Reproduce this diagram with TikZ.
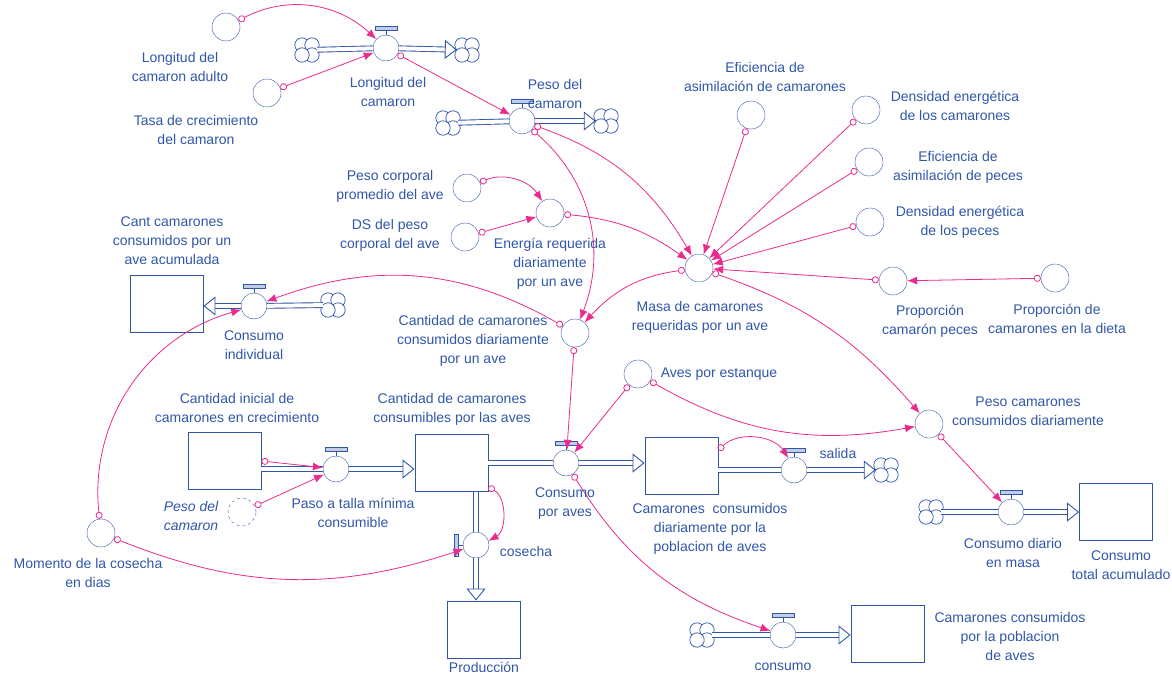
\documentclass[tikz,border=0pt]{standalone}
\usepackage{fontspec}
\setmainfont{Liberation Sans}
\usetikzlibrary{arrows.meta, calc}
\definecolor{vblue}{RGB}{48,86,168}
\definecolor{vpink}{RGB}{236,42,140}
\newcommand{\tapup}[1]{\draw[vblue] (#1.north) -- ++(0,5);
  \draw[vblue, fill=vblue!30] ($(#1.north)+(-11,5)$) rectangle ($(#1.north)+(11,8.5)$);}
\newcommand{\tapleft}[1]{\draw[vblue] (#1.west) -- ++(-5,0);
  \draw[vblue, fill=vblue!30] ($(#1.west)+(-5,-11)$) rectangle ($(#1.west)+(-8.5,11)$);}
\newcommand{\puffs}[1]{\foreach \dx/\dy in {-5/5, 5/5, 5/-5, -5/-5}
  {\draw[vblue, line width=0.7pt, fill=white] ($(#1)+(\dx,\dy)$) circle (7.2);}}
\newcommand{\flowpipe}[2]{\draw[pipe, shorten >=11pt] (#1) -- (#2);
  \draw[pipehead] (#1) -- (#2);}

\begin{document}
\begin{tikzpicture}[x=1pt, y=1pt,
    aux/.style={circle, draw=vblue, minimum size=28pt, inner sep=0pt},
    valve/.style={circle, draw=vblue, minimum size=26pt, inner sep=0pt},
    stock/.style={rectangle, draw=vblue, line width=0.9pt, minimum width=73pt, minimum height=57pt},
    cloudy/.style={circle, minimum size=20pt, inner sep=0pt},
    txt/.style={text=vblue, align=center, font=\fontsize{14}{19}\selectfont},
    link/.style={draw=vpink, line width=0.8pt, {Circle[open, length=7pt, width=7pt]}-{Latex[length=10pt, width=8pt]}},
    pipe/.style={draw=vblue, line width=0.9pt, double=white, double distance=4pt},
    pipehead/.style={white, line width=0.4pt, -{Triangle[open, length=12pt, width=19pt, color=vblue, fill=white, line width=0.9pt]}}
]
    \useasboundingbox (0,0) rectangle (1172,-677);

    % auxiliaries
    \node[aux] (ladulto) at (226,-27) {};
    \node[aux] (tasa) at (267,-93) {};
    \node[aux] (efcam) at (751,-115) {};
    \node[aux] (dencam) at (866,-110) {};
    \node[aux] (efpec) at (869,-162) {};
    \node[aux] (denpec) at (870,-222) {};
    \node[aux] (propcp) at (893,-281) {};
    \node[aux] (propdieta) at (1055,-278) {};
    \node[aux] (masa) at (699,-268) {};
    \node[aux] (pcorp) at (467,-188) {};
    \node[aux] (ds) at (465,-237) {};
    \node[aux] (energia) at (550,-213) {};
    \node[aux] (cantdia) at (575,-333) {};
    \node[aux, dashed] (pesosh) at (242,-512) {};
    \node[aux] (momento) at (101,-533) {};
    \node[aux] (aves) at (638,-374) {};
    \node[aux] (pesocons) at (929,-424) {};

    % stocks
    \node[stock] (acum) at (166.5,-303.5) {};
    \node[stock] (inicial) at (224.5,-461) {};
    \node[stock] (consumibles) at (451.5,-463) {};
    \node[stock] (diario) at (681.5,-466) {};
    \node[stock] (total) at (1116,-512) {};
    \node[stock] (pobl) at (887.5,-633.5) {};
    \node[stock] (prod) at (483.5,-629.5) {};

    % valves and clouds
    \node[valve] (vlong) at (386,-48) {};
    \node[valve] (vpeso) at (522,-121) {};
    \node[valve] (vconsind) at (254,-306) {};
    \node[valve] (vpaso) at (336,-469) {};
    \node[valve] (vconsaves) at (566,-463) {};
    \node[valve] (vcosecha) at (476,-545) {};
    \node[valve] (vsalida) at (794,-470) {};
    \node[valve] (vdiario) at (1011,-512) {};
    \node[valve] (vconsumo) at (783,-635) {};
    \node[cloudy] (c1) at (307,-50) {};
    \node[cloudy] (c2) at (467,-50) {};
    \node[cloudy] (c3) at (448,-123) {};
    \node[cloudy] (c4) at (606,-121) {};
    \node[cloudy] (c5) at (333,-305) {};
    \node[cloudy] (c6) at (886,-470) {};
    \node[cloudy] (c7) at (931,-512) {};
    \node[cloudy] (c8) at (702,-635) {};
    \foreach \c in {c1, c2, c3, c4, c5, c6, c7, c8} {\puffs{\c}}
    \foreach \v in {vlong, vpeso, vconsind, vpaso, vconsaves, vsalida, vdiario, vconsumo} {\tapup{\v}}
    \tapleft{vcosecha}

    % pipes
    \draw[pipe] (c1) -- (vlong);
    \flowpipe{vlong}{c2}
    \draw[pipe] (c3) -- (vpeso);
    \flowpipe{vpeso}{c4}
    \draw[pipe] (c5) -- (vconsind);
    \flowpipe{vconsind}{acum.east |- vconsind}
    \draw[pipe] (inicial.east |- vpaso) -- (vpaso);
    \flowpipe{vpaso}{consumibles.west |- vpaso}
    \draw[pipe] (consumibles.east |- vconsaves) -- (vconsaves);
    \flowpipe{vconsaves}{diario.west |- vconsaves}
    \draw[pipe] (vcosecha |- consumibles.south) -- (vcosecha);
    \flowpipe{vcosecha}{vcosecha |- prod.north}
    \draw[pipe] (diario.east |- vsalida) -- (vsalida);
    \flowpipe{vsalida}{c6}
    \draw[pipe] (c7) -- (vdiario);
    \flowpipe{vdiario}{total.west |- vdiario}
    \draw[pipe] (c8) -- (vconsumo);
    \flowpipe{vconsumo}{pobl.west |- vconsumo}

    % links
    \draw[link] (ladulto) to[bend left=35] (vlong);
    \draw[link] (tasa) -- (vlong);
    \draw[link] (vlong) -- (vpeso);
    \draw[link] (vpeso) to[bend left=20] (masa);
    \draw[link] (vpeso) to[bend left=35] (cantdia);
    \draw[link] (pcorp) to[bend left=40] (energia);
    \draw[link] (ds) -- (energia);
    \draw[link] (energia) to[bend left=15] (masa);
    \foreach \a in {efcam, dencam, efpec, denpec, propcp} {\draw[link] (\a) -- (masa);}
    \draw[link] (propdieta) -- (propcp);
    \draw[link] (masa) to[bend right=20] (cantdia);
    \draw[link] (masa) to[bend left=15] (pesocons);
    \draw[link] (cantdia) to[bend right=25] (vconsind);
    \draw[link] (cantdia) -- (vconsaves);
    \draw[link] (aves) -- (vconsaves);
    \draw[link] (aves) to[bend right=20] (pesocons);
    \draw[link] (momento) to[bend left=40] (vconsind);
    \draw[link] (momento) to[bend right=20] (vcosecha);
    \draw[link] (inicial.east) -- (vpaso);
    \draw[link] (pesosh) -- (vpaso);
    \draw[link] ([yshift=5pt]consumibles.south east) to[bend left=60] (vcosecha);
    \draw[link] (vconsaves) to[bend right=20] (vconsumo);
    \draw[link] ([yshift=-13pt]diario.north east) to[bend left=50] (vsalida);
    \draw[link] (pesocons) -- (vdiario);

    % labels
    \node[txt] (ladulto-t) at (180,-67) {Longitud del\\camaron adulto};
    \node[txt] (tasa-t) at (196,-129.5) {Tasa de crecimiento\\del camaron};
    \node[txt] (vlong-t) at (388,-91.5) {Longitud del\\camaron};
    \node[txt] (vpeso-t) at (555,-94) {Peso del\\camaron};
    \node[txt] (efcam-t) at (765,-76.5) {Eficiencia de\\asimilación de camarones};
    \node[txt] (dencam-t) at (955,-105.5) {Densidad energética\\de los camarones};
    \node[txt] (efpec-t) at (958,-167.5) {Eficiencia de\\asimilación de peces};
    \node[txt] (denpec-t) at (960,-222.5) {Densidad energética\\de los peces};
    \node[txt] (propcp-t) at (930,-321.5) {Proporción\\camarón peces};
    \node[txt] (propdieta-t) at (1057,-318.5) {Proporción de\\camarones en la dieta};
    \node[txt] (masa-t) at (700,-317.5) {Masa de camarones\\requeridas por un ave};
    \node[txt] (pcorp-t) at (390,-186.5) {Peso corporal\\promedio del ave};
    \node[txt] (ds-t) at (390,-235.5) {DS del peso\\corporal del ave};
    \node[txt] (energia-t) at (550,-264) {Energía requerida\\diariamente\\por un ave};
    \node[txt] (cantdia-t) at (473,-341) {Cantidad de camarones\\consumidos diariamente\\por un ave};
    \node[txt] (acum-t) at (172,-241) {Cant camarones\\consumidos por un\\ave acumulada};
    \node[txt] (vconsind-t) at (254,-345) {Consumo\\individual};
    \node[txt] (inicial-t) at (237,-407.5) {Cantidad inicial de\\camarones en crecimiento};
    \node[txt, font=\fontsize{14}{19}\selectfont\itshape] (pesosh-t) at (191,-515.5) {Peso del\\camaron};
    \node[txt] (vpaso-t) at (353,-512.5) {Paso a talla mínima\\consumible};
    \node[txt] (consumibles-t) at (452,-409.5) {Cantidad de camarones\\consumibles por las aves};
    \node[txt] (vconsaves-t) at (565,-503.5) {Consumo\\por aves};
    \node[txt] (vcosecha-t) at (526,-551) {cosecha};
    \node[txt] (prod-t) at (484,-667) {Producción};
    \node[txt] (momento-t) at (88,-572.5) {Momento de la cosecha\\en dias};
    \node[txt] (aves-t) at (719,-374) {Aves por estanque};
    \node[txt] (diario-t) at (710,-529) {Camarones\ \ consumidos\\diariamente por la\\poblacion de aves};
    \node[txt] (vsalida-t) at (838,-453) {salida};
    \node[txt] (pesocons-t) at (1028,-411.5) {Peso camarones\\consumidos diariamente};
    \node[txt] (vdiario-t) at (1013,-552.5) {Consumo diario\\en masa};
    \node[txt] (total-t) at (1121,-565.5) {Consumo\\total acumulado};
    \node[txt] (vconsumo-t) at (783,-667) {consumo};
    \node[txt] (pobl-t) at (1010,-636) {Camarones consumidos\\por la poblacion\\de aves};
\end{tikzpicture}
\end{document}
